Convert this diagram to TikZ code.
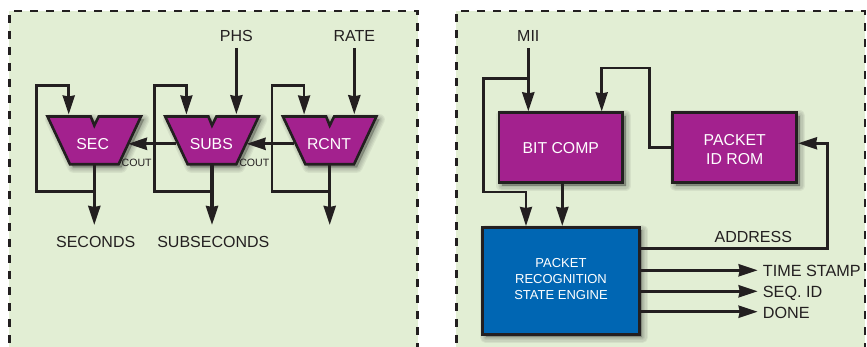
\documentclass[tikz,border=0pt]{standalone}
\usepackage{fontspec}
\setmainfont{Liberation Sans}
\usetikzlibrary{arrows.meta}
\definecolor{panelgreen}{HTML}{E2EED4}
\definecolor{muxpurple}{HTML}{A3218E}
\definecolor{engblue}{HTML}{0066B3}
\definecolor{inkdark}{HTML}{231F20}
\tikzset{
  softlayer/.style={preaction={draw=black,fill=black,opacity=.055,line width=#1,line join=round,transform canvas={xshift=3pt,yshift=-3pt}}},
  softshadow/.style={softlayer=11pt,softlayer=8.5pt,softlayer=6pt,softlayer=3.5pt,softlayer=1pt},
  panelline/.style={draw=inkdark,line width=2.7pt,dash pattern=on 8pt off 8pt},
  shape box/.style={draw=inkdark,line width=2.6pt,softshadow},
  label text/.style={text=inkdark,font=\fontsize{16}{16}\selectfont,inner sep=0pt,minimum height=23pt},
  inner text/.style={text=white,font=\fontsize{15.8}{19.3}\selectfont,align=center,inner sep=0pt},
  small text/.style={text=inkdark,font=\fontsize{10.6}{12}\selectfont,inner sep=0pt},
  out label/.style={text=inkdark,font=\fontsize{16.2}{16}\selectfont,anchor=west,inner xsep=5pt,inner ysep=0pt,text height=13pt,text depth=0pt},
  thickarrow/.style={draw=inkdark,line width=3.2pt,-{Triangle[length=19pt,width=12pt,inset=1pt]}},
  thinarrow/.style={draw=inkdark,line width=2.5pt,-{Triangle[length=19pt,width=12pt,inset=1pt]},line join=miter},
  mux/.style={minimum width=70pt,minimum height=58.6pt,inner sep=0pt,text=white},
  bluebox/.style={shape box,fill=engblue,inner sep=0pt},
  purplebox/.style={shape box,fill=muxpurple,inner sep=0pt},
}
% #1 name, #2 shift in x, #3 label, #4 x of the label
\newcommand{\muxblock}[4]{%
  \begin{scope}[xshift=#2pt]
    \path[shape box,fill=muxpurple,line join=miter]
      (47.5,116.5) -- (90.7,116.5) -- (94.3,125.5) -- (98.7,116.5) -- (141,116.5)
      -- (118.6,164.3) -- (70,164.3) -- cycle;
    \coordinate (#1-fb) at (68.7,114.5);
    \coordinate (#1-out) at (94.3,165);
    \coordinate (#1-tap) at (94.3,191.3);
    \coordinate (#1-end) at (94.3,225);
    \coordinate (#1-left) at (36.7,191.3);
    \coordinate (#1-topleft) at (36.7,85.7);
    \coordinate (#1-topright) at (68.7,85.7);
  \end{scope}
  \node[mux,inner text] (#1) at (#4,143.8) {#3};
}
\begin{document}
\begin{tikzpicture}[x=1pt,y=-1pt]
\useasboundingbox (0,0) rectangle (867,347);
% panels
\path[fill=panelgreen] (9,346.7) -- (9,11) -- (417.7,11) -- (417.7,346.7) -- cycle;
\path[fill=panelgreen] (456.3,346.7) -- (456.3,11) -- (865,11) -- (865,346.7) -- cycle;
\draw[panelline] (9.7,15) -- (9.7,347);
\draw[panelline] (14,11) -- (417.7,11) -- (417.7,347);
\draw[panelline] (456.7,14.5) -- (456.7,347);
\draw[panelline] (461,11) -- (865,11) -- (865,347);

% left panel
\muxblock{sec}{0}{SEC}{92.7}
\muxblock{subs}{117.7}{SUBS}{211.3}
\muxblock{rcnt}{235.4}{RCNT}{329}

\node[label text] (phs) at (236.4,36.3) {PHS};
\node[label text] (rate) at (354.3,36.3) {RATE};
\node[label text] (seconds) at (95.7,242) {SECONDS};
\node[label text] (subseconds) at (213.3,242) {SUBSECONDS};
\node[small text] (cout1) at (136.7,162.7) {COUT};
\node[small text] (cout2) at (254.3,162.7) {COUT};

\draw[thickarrow] (phs.south) -- (phs.south |- subs.north);
\draw[thickarrow] (rate.south) -- (rate.south |- rcnt.north);
\draw[thickarrow] (rcnt.west) -- (subs.east);
\draw[thickarrow] (subs.west) -- (sec.east);
\foreach \m in {sec,subs,rcnt}{
  \draw[thickarrow] (\m-out) -- (\m-end);
  \draw[thinarrow] (\m-tap) -- (\m-left) -- (\m-topleft) -- (\m-topright) -- (\m-fb);
}

% right panel
\node[purplebox,minimum width=123.7pt,minimum height=70pt,inner text] (bit) at (560.8,147.7) {BIT COMP};
\node[purplebox,minimum width=124pt,minimum height=70pt,inner text] (rom) at (734.7,147.7) {\rule{0pt}{15pt}PACKET\\ID ROM};
\node[bluebox,minimum width=156.6pt,minimum height=107pt,inner text,font=\fontsize{13}{16}\selectfont] (engine) at (561,280.8) {PACKET\\RECOGNITION\\STATE ENGINE\rule[-4pt]{0pt}{4pt}};

\node[label text] (mii) at (528.3,36.3) {MII};
\node[label text] (address) at (753.3,237.3) {ADDRESS};
\node[out label] (ts) at (757.7,270.3) {TIME STAMP};
\node[out label] (seq) at (757.7,291.3) {SEQ. ID};
\node[out label] (done) at (757.7,311.7) {DONE};

\coordinate (miitap) at (528.3,78.3);
\coordinate (m1) at (483.3,78.3);
\coordinate (m2) at (483.3,192);
\coordinate (m3) at (526,192);
\coordinate (r1) at (649.7,147.7);
\coordinate (r2) at (649.7,68);
\coordinate (r3) at (601.7,68);
\coordinate (a0) at (639.3,248.3);
\coordinate (a1) at (827.7,248.3);
\coordinate (a2) at (827.7,143.3);

\draw[thickarrow] (mii.south) -- (mii.south |- bit.north);
\draw[thinarrow] (miitap) -- (m1) -- (m2) -- (m3) -- (m3 |- engine.north);
\draw[thickarrow] ([xshift=1.5pt]bit.south) -- ([xshift=1.5pt]bit.south |- engine.north);
\draw[thinarrow] (rom.west) -- (r1) -- (r2) -- (r3) -- (r3 |- bit.north);
\draw[thinarrow] (engine.east |- a0) -- (a1) -- (a2) -- (rom.east |- a2);
\draw[thickarrow] (engine.east |- ts.west) -- (ts.west);
\draw[thickarrow] (engine.east |- seq.west) -- (seq.west);
\draw[thickarrow] (engine.east |- done.west) -- (done.west);
\end{tikzpicture}
\end{document}
